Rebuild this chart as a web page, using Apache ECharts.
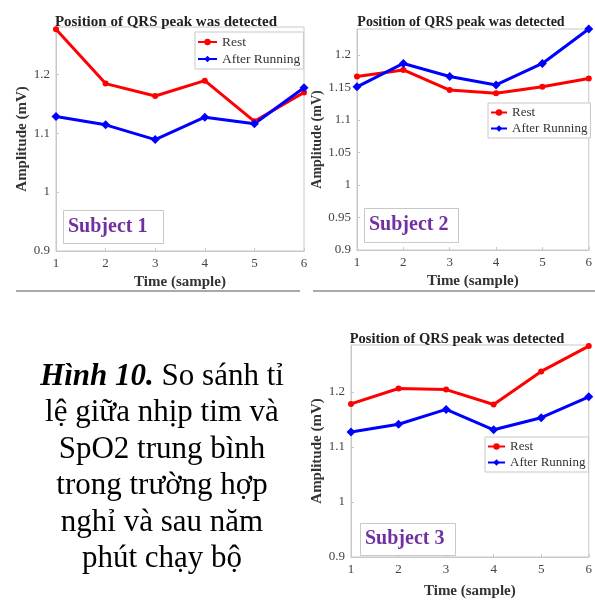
<!DOCTYPE html>
<html>
<head>
<meta charset="utf-8">
<script src="https://cdn.jsdelivr.net/npm/echarts@6/dist/echarts.min.js"></script>
<style>html,body{margin:0;padding:0;background:#fff}#c{width:595px;height:600px}</style>
</head>
<body>
<div id="c"></div>
<script>
const samples = ['1', '2', '3', '4', '5', '6'];
const seriesNames = ['Rest', 'After Running'];
const subj1Rest = [1.276, 1.184, 1.163, 1.189, 1.120, 1.169];
const subj1After = [1.128, 1.114, 1.089, 1.127, 1.116, 1.177];
const subj2Rest = [1.167, 1.177, 1.146, 1.141, 1.151, 1.164];
const subj2After = [1.151, 1.187, 1.167, 1.154, 1.187, 1.240];
const subj3Rest = [1.178, 1.206, 1.204, 1.177, 1.237, 1.283];
const subj3After = [1.127, 1.141, 1.168, 1.131, 1.153, 1.191];
const subjectLabels = ['Subject 1', 'Subject 2', 'Subject 3'];
const chartTitle = 'Position of QRS peak was detected';
const xName = 'Time (sample)';
const yName = 'Amplitude (mV)';
const captionBold = 'Hình 10.';
const captionRest = ' So sánh tỉ\nlệ giữa nhịp tim và\nSpO2 trung bình\ntrong trường hợp\nnghỉ và sau năm\nphút chạy bộ';

const FONT = '"Liberation Serif", "Times New Roman", serif';
const RED = '#ff0000', BLUE = '#0000ff';

const grids = [
  {left: 56, right: 291, top: 27, bottom: 349},
  {left: 357, right: 4, top: 29, bottom: 350},
  {left: 351, right: 3, top: 345, bottom: 37}
];
const yCfg = [
  {min: 0.9, max: 1.28, interval: 0.1, nameGap: 26},
  {min: 0.9, max: 1.24, interval: 0.05, nameGap: 30},
  {min: 0.9, max: 1.285, interval: 0.1, nameGap: 23}
];
const data = [[subj1Rest, subj1After], [subj2Rest, subj2After], [subj3Rest, subj3After]];

const chart = echarts.init(document.getElementById('c'), null, {renderer: 'canvas'});

const gridOpts = grids.map(g => Object.assign({show: true, borderColor: '#c8c8c8', borderWidth: 1, backgroundColor: '#fff'}, g));

const xAxes = grids.map((g, i) => ({
  gridIndex: i, type: 'category', data: samples, boundaryGap: false,
  name: xName, nameLocation: 'middle', nameGap: i === 2 ? 27 : 24,
  nameTextStyle: {fontFamily: FONT, fontWeight: 'bold', fontSize: 15, color: '#333'},
  axisLine: {lineStyle: {color: '#c8c8c8'}},
  axisTick: {inside: true, length: 3, lineStyle: {color: '#c8c8c8'}},
  axisLabel: {fontFamily: FONT, fontSize: 13, color: '#444', margin: 6},
  splitLine: {show: false}
}));

const yAxes = yCfg.map((c, i) => ({
  gridIndex: i, type: 'value', min: c.min, max: c.max, interval: c.interval,
  name: yName, nameLocation: 'middle', nameGap: c.nameGap,
  nameTextStyle: {fontFamily: FONT, fontWeight: 'bold', fontSize: i === 1 ? 14 : 15, color: '#333'},
  axisLine: {show: true, lineStyle: {color: '#c8c8c8'}},
  axisTick: {show: true, inside: true, length: 3, lineStyle: {color: '#c8c8c8'}},
  axisLabel: {fontFamily: FONT, fontSize: 13, color: '#444', margin: 6, showMaxLabel: false,
    formatter: v => String(parseFloat(v.toFixed(2)))},
  splitLine: {show: false}
}));

const series = [];
data.forEach((pair, i) => {
  pair.forEach((vals, k) => {
    series.push({
      name: seriesNames[k], type: 'line', xAxisIndex: i, yAxisIndex: i,
      data: vals, symbol: k === 0 ? 'circle' : 'diamond', symbolSize: k === 0 ? 6 : 9,
      lineStyle: {width: 3, color: k === 0 ? RED : BLUE},
      itemStyle: {color: k === 0 ? RED : BLUE},
      clip: false, animation: false
    });
  });
});

const legendPos = [
  {left: 195, top: 32, fs: 13.5, iw: 19},
  {left: 488, top: 103, fs: 13, iw: 16},
  {left: 485, top: 437, fs: 13, iw: 17}
];
const legends = legendPos.map(p => ({
  data: seriesNames, orient: 'vertical', left: p.left, top: p.top,
  backgroundColor: '#fff', borderColor: '#c8c8c8', borderWidth: 1,
  padding: [3, 3, 3, 2], itemGap: 3, itemWidth: p.iw, itemHeight: 8,
  textStyle: {fontFamily: FONT, fontSize: p.fs, color: '#333'},
  selectedMode: false
}));

const titles = [
  {left: 161, top: 10, fs: 15},
  {left: 456, top: 10, fs: 14},
  {left: 452, top: 327, fs: 14.5}
].map(p => ({
  text: chartTitle, left: p.left, top: p.top, textAlign: 'center',
  textStyle: {fontFamily: FONT, fontWeight: 'bold', fontSize: p.fs, color: '#222'}
}));

const subjBoxes = [
  {x: 63, y: 210, w: 100, h: 33},
  {x: 364, y: 208, w: 94, h: 34},
  {x: 360, y: 523, w: 95, h: 32}
];
const graphics = [];
subjBoxes.forEach((b, i) => {
  graphics.push({type: 'rect', left: b.x, top: b.y, shape: {width: b.w, height: b.h},
    style: {fill: '#fff', stroke: '#c8c8c8', lineWidth: 1}, z: 100});
  graphics.push({type: 'text', x: b.x + 5, y: b.y + b.h / 2,
    style: {text: subjectLabels[i], font: 'bold 20px ' + FONT, fill: '#7030a0', textVerticalAlign: 'middle'}, z: 101});
});
graphics.push({type: 'line', shape: {x1: 16, y1: 291, x2: 300, y2: 291}, style: {stroke: '#555', lineWidth: 1}});
graphics.push({type: 'line', shape: {x1: 313, y1: 291, x2: 595, y2: 291}, style: {stroke: '#555', lineWidth: 1}});
graphics.push({
  type: 'text', x: 162, y: 468,
  style: {
    text: '{b|' + captionBold + '}{r|' + captionRest.split('\n')[0] + '}\n' +
      captionRest.split('\n').slice(1).map(l => '{r|' + l + '}').join('\n'),
    rich: {
      b: {font: 'italic bold 31px ' + FONT, fill: '#000', lineHeight: 36.5},
      r: {font: '31px ' + FONT, fill: '#000', lineHeight: 36.5}
    },
    textAlign: 'center', textVerticalAlign: 'middle', align: 'center', verticalAlign: 'middle'
  }
});

chart.setOption({
  animation: false,
  backgroundColor: '#fff',
  title: titles,
  grid: gridOpts,
  xAxis: xAxes,
  yAxis: yAxes,
  legend: legends,
  series: series,
  graphic: graphics
});
</script>
</body>
</html>
